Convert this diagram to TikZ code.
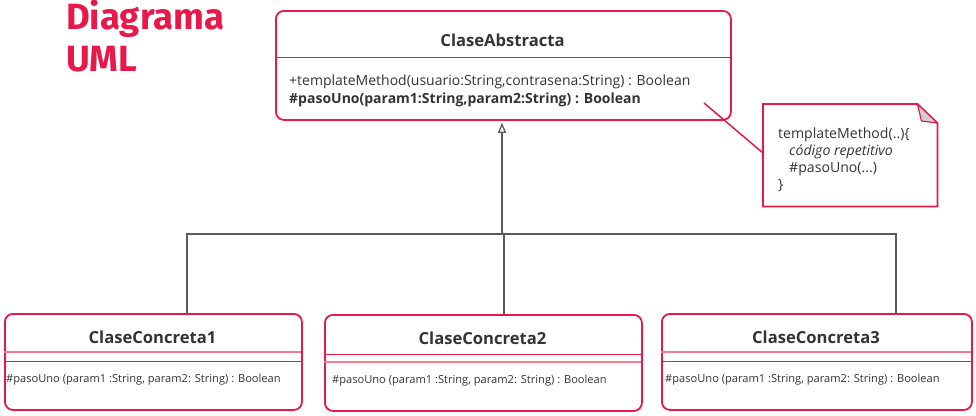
\documentclass[tikz,border=0pt]{standalone}
\usepackage{fontspec}
\setmainfont{Open Sans}
\newfontfamily\titlefont{Fira Sans}
\usetikzlibrary{arrows.meta,calc}
\definecolor{umlred}{HTML}{E8194A}
\definecolor{umlpink}{HTML}{F27A93}
\definecolor{umlgray}{HTML}{5A5A5A}
\definecolor{umltext}{HTML}{333333}
\definecolor{foldgray}{HTML}{D0D0D0}
\begin{document}
\begin{tikzpicture}[x=1pt,y=-1pt,
  classbox/.style={draw=umlred,line width=1.8pt,rounded corners=8pt,rectangle,inner sep=0pt,anchor=north west},
  sepline/.style={draw=umlred,line width=1pt},
  seppink/.style={draw=umlpink,line width=1.6pt},
  cname/.style={font=\bfseries\fontsize{16.6}{18}\selectfont,text=umltext,anchor=base,inner sep=0pt},
  mtext/.style={font=\fontsize{14}{16}\selectfont,text=umltext,anchor=base west,inner sep=0pt},
  smtext/.style={font=\fontsize{11.1}{13}\selectfont,text=umltext,anchor=base west,inner sep=0pt},
  ntext/.style={font=\fontsize{14.1}{16}\selectfont,text=umltext,anchor=base west,inner sep=0pt},
  conn/.style={draw=umlgray,line width=1.8pt},
  ttl/.style={font=\titlefont\bfseries\fontsize{36.5}{40}\selectfont,text=umlred,anchor=base west,inner sep=0pt}
]
\useasboundingbox (0,0) rectangle (976,415);
% title
\node[ttl] (t1) at (66,29) {Diagrama};
\node[ttl] (t2) at (66,71) {UML};
% abstract class
\node[classbox,minimum width=455pt,minimum height=109pt] (abs) at (275,10) {};
\draw[sepline] (275,57) -- (730,57);
\node[cname] (absn) at (502.5,46) {ClaseAbstracta};
\node[mtext] (m1) at (289,85) {+templateMethod(usuario:String,contrasena:String) : Boolean};
\node[mtext,font=\bfseries\fontsize{14}{16}\selectfont] (m2) at (289,103) {\#pasoUno(param1:String,param2:String) : Boolean};
% note
\node[rectangle,inner sep=0pt,minimum width=174pt,minimum height=102pt,anchor=north west] (note) at (763,104) {};
\draw[umlred,line width=1.8pt,line join=miter] (note.north west) -- ($(note.north east)+(-20,0)$) -- ($(note.north east)+(0,19)$) -- (note.south east) -- (note.south west) -- cycle;
\draw[umlred,line width=1.2pt,fill=foldgray,line join=round] ($(note.north east)+(-20,0)$) -- ($(note.north east)+(-16,17)$) -- ($(note.north east)+(0,19)$) -- cycle;
\node[ntext] (n1) at (778,138) {templateMethod(..)\{};
\node[ntext,font=\itshape\fontsize{14.1}{16}\selectfont] (n2) at (789,155) {código repetitivo};
\node[ntext] (n3) at (789,172) {\#pasoUno(...)};
\node[ntext] (n4) at (778,189) {\}};
\coordinate (nc) at (704,103);
\draw[umlred,line width=1.5pt] (nc) -- (note.west |- 0,153);
% concrete classes
\node[classbox,minimum width=297pt,minimum height=96pt] (c1) at (4,313) {};
\draw[seppink] (4,352) -- (301,352);
\draw[sepline] (4,361) -- (301,361);
\node[cname] (c1n) at (152.5,343) {ClaseConcreta1};
\node[smtext] (c1m) at (6,382) {\#pasoUno (param1 :String, param2: String) : Boolean};

\node[classbox,minimum width=317pt,minimum height=96pt] (c2) at (324,314) {};
\draw[sepline] (324,354) -- (641,354);
\draw[seppink] (324,362) -- (641,362);
\node[cname] (c2n) at (482.5,344) {ClaseConcreta2};
\node[smtext] (c2m) at (332,383) {\#pasoUno (param1 :String, param2: String) : Boolean};

\node[classbox,minimum width=310pt,minimum height=96pt] (c3) at (661,313) {};
\draw[seppink] (661,352) -- (971,352);
\draw[sepline] (661,361) -- (971,361);
\node[cname] (c3n) at (816,343) {ClaseConcreta3};
\node[smtext] (c3m) at (665,382) {\#pasoUno (param1 :String, param2: String) : Boolean};
% connectors
\coordinate (hl) at (186,234);
\coordinate (hr) at (897,234);
\coordinate (hm) at (502,234);
\draw[conn] (hl) -- (hr);
\draw[conn] (187,234) -- (c1.north -| 187,0);
\draw[conn] (504,234) -- (c2.north -| 504,0);
\draw[conn] (896,234) -- (c3.north -| 896,0);
\draw[conn,-{Triangle[open,width=8pt,length=10pt,line width=1.3pt]}] (hm) -- ($(abs.south -| hm)+(0,2)$);
\end{tikzpicture}
\end{document}
